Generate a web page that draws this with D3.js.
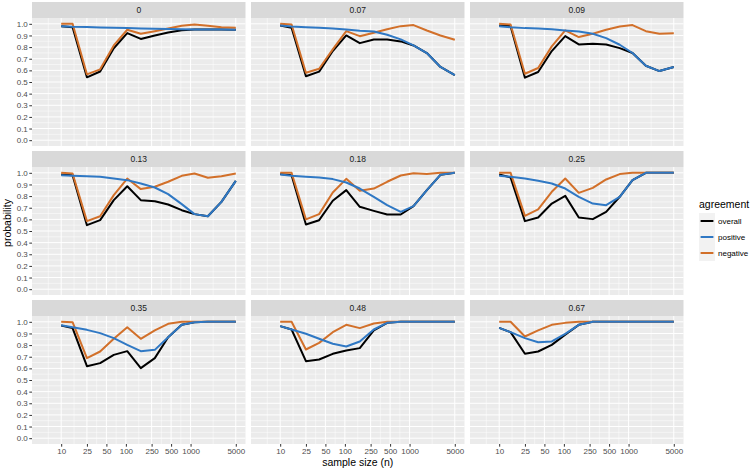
<!doctype html>
<html lang="en">
<head>
    <meta charset="UTF-8">
    <title>Agreement probability by sample size</title>
    <style>
        body { margin: 0; background: #fff; }
        svg { display: block; font-family: "Liberation Sans", Arial, sans-serif; }
        .tick-label { font-size: 8px; fill: #4d4d4d; }
        .strip-label { font-size: 8.5px; fill: #1a1a1a; }
        .axis-title { font-size: 10.5px; fill: #000; }
        .legend-label { font-size: 8px; fill: #000; }
    </style>
</head>
<body>
<svg class="chart"></svg>
<script src="https://d3js.org/d3.v7.min.js"></script>
<script>
    // facet labels and sample sizes
    var facets = ["0", "0.07", "0.09", "0.13", "0.18", "0.25", "0.35", "0.48", "0.67"];
    var sizes = [10, 15, 25, 40, 65, 105, 170, 280, 450, 730, 1150, 1850, 3000, 5000];
    var xTicks = [10, 25, 50, 100, 250, 500, 1000, 5000];
    var yTicks = [0, 0.1, 0.2, 0.3, 0.4, 0.5, 0.6, 0.7, 0.8, 0.9, 1.0];

    // one row per facet
    var overall = [
        [0.98, 0.97, 0.54, 0.59, 0.79, 0.92, 0.87, 0.90, 0.925, 0.945, 0.952, 0.951, 0.951, 0.95],
        [0.985, 0.966, 0.549, 0.589, 0.766, 0.90, 0.834, 0.866, 0.866, 0.849, 0.814, 0.749, 0.629, 0.56],
        [0.986, 0.98, 0.537, 0.586, 0.766, 0.894, 0.823, 0.829, 0.823, 0.791, 0.749, 0.64, 0.594, 0.629],
        [0.986, 0.98, 0.55, 0.593, 0.765, 0.885, 0.765, 0.756, 0.728, 0.679, 0.645, 0.627, 0.75, 0.931],
        [0.99, 0.98, 0.556, 0.593, 0.76, 0.851, 0.708, 0.673, 0.642, 0.642, 0.714, 0.851, 0.983, 1.0],
        [0.986, 0.96, 0.585, 0.616, 0.736, 0.802, 0.616, 0.602, 0.665, 0.794, 0.937, 1.0, 1.0, 1.0],
        [0.968, 0.946, 0.619, 0.645, 0.716, 0.748, 0.602, 0.688, 0.868, 0.974, 0.997, 1.0, 1.0, 1.0],
        [0.963, 0.934, 0.662, 0.676, 0.725, 0.754, 0.774, 0.926, 0.991, 1.0, 1.0, 1.0, 1.0, 1.0],
        [0.948, 0.911, 0.725, 0.745, 0.802, 0.89, 0.974, 1.0, 1.0, 1.0, 1.0, 1.0, 1.0, 1.0]
    ];
    var positive = [
        [0.98, 0.975, 0.972, 0.968, 0.966, 0.963, 0.96, 0.957, 0.955, 0.953, 0.952, 0.951, 0.951, 0.95],
        [0.986, 0.977, 0.971, 0.966, 0.96, 0.951, 0.94, 0.934, 0.906, 0.866, 0.814, 0.749, 0.629, 0.56],
        [0.98, 0.971, 0.963, 0.96, 0.954, 0.943, 0.934, 0.914, 0.877, 0.82, 0.749, 0.64, 0.594, 0.629],
        [0.98, 0.975, 0.971, 0.966, 0.951, 0.937, 0.908, 0.874, 0.817, 0.731, 0.645, 0.627, 0.75, 0.931],
        [0.986, 0.974, 0.966, 0.96, 0.946, 0.917, 0.865, 0.794, 0.722, 0.665, 0.714, 0.851, 0.983, 1.0],
        [0.974, 0.966, 0.951, 0.931, 0.908, 0.865, 0.794, 0.736, 0.722, 0.794, 0.937, 1.0, 1.0, 1.0],
        [0.971, 0.954, 0.931, 0.903, 0.86, 0.802, 0.748, 0.759, 0.868, 0.974, 0.997, 1.0, 1.0, 1.0],
        [0.963, 0.934, 0.897, 0.854, 0.811, 0.788, 0.831, 0.934, 0.991, 1.0, 1.0, 1.0, 1.0, 1.0],
        [0.948, 0.911, 0.86, 0.825, 0.831, 0.897, 0.974, 1.0, 1.0, 1.0, 1.0, 1.0, 1.0, 1.0]
    ];
    var negative = [
        [1.0, 1.0, 0.566, 0.609, 0.814, 0.949, 0.914, 0.937, 0.96, 0.983, 0.994, 0.983, 0.971, 0.966],
        [1.0, 0.994, 0.58, 0.614, 0.78, 0.937, 0.894, 0.923, 0.954, 0.98, 0.989, 0.943, 0.90, 0.863],
        [1.0, 0.994, 0.571, 0.62, 0.806, 0.943, 0.886, 0.914, 0.949, 0.977, 0.989, 0.937, 0.914, 0.92],
        [1.0, 0.994, 0.585, 0.627, 0.808, 0.951, 0.86, 0.88, 0.923, 0.974, 0.994, 0.957, 0.971, 0.994],
        [1.0, 1.0, 0.6, 0.645, 0.831, 0.948, 0.845, 0.865, 0.923, 0.977, 0.997, 0.99, 1.0, 1.0],
        [1.0, 1.0, 0.63, 0.685, 0.837, 0.951, 0.828, 0.871, 0.943, 0.989, 1.0, 1.0, 1.0, 1.0],
        [1.0, 0.997, 0.688, 0.745, 0.854, 0.954, 0.854, 0.926, 0.983, 1.0, 1.0, 1.0, 1.0, 1.0],
        [1.0, 1.0, 0.762, 0.819, 0.911, 0.974, 0.946, 0.986, 1.0, 1.0, 1.0, 1.0, 1.0, 1.0],
        [1.0, 1.0, 0.874, 0.926, 0.974, 0.991, 1.0, 1.0, 1.0, 1.0, 1.0, 1.0, 1.0, 1.0]
    ];

    var seriesNames = ["overall", "positive", "negative"];
    var colors = {overall: "#000000", positive: "#2f78c4", negative: "#d2702a"};
    var drawOrder = ["overall", "negative", "positive"];   // blue ends up on top
    var seriesData = {overall: overall, positive: positive, negative: negative};

    var totalWidth = 750, totalHeight = 470;
    var marginLeft = 32, marginTop = 2;
    var pw = 213.5, ph = 128, stripH = 16, gapX = 5.5, gapY = 5;

    var svg = d3.select(".chart").attr("width", totalWidth).attr("height", totalHeight);

    // log x with ggplot style 5% expansion around [5, 5000]
    var lo = Math.log10(5), hi = Math.log10(5000), ex = (hi - lo) * 0.05;
    var x = d3.scaleLog().domain([Math.pow(10, lo - ex), Math.pow(10, hi + ex)]).range([0, pw]);
    var y = d3.scaleLinear().domain([-0.05, 1.05]).range([ph, 0]);

    // minor breaks halfway between majors (in log space)
    var xMinor = [];
    for (var i = 0; i < xTicks.length - 1; i++) xMinor.push(Math.sqrt(xTicks[i] * xTicks[i + 1]));
    xMinor.unshift(Math.pow(10, 2 * Math.log10(xTicks[0]) - Math.log10(xMinor[0])));
    var yMinor = d3.range(0, 10).map(function(k) { return k / 10 + 0.05; });

    var line = d3.line()
        .x(function(d) { return x(d.n); })
        .y(function(d) { return y(d.p); });

    facets.forEach(function(label, fi) {
        var col = fi % 3, row = Math.floor(fi / 3);
        var px = marginLeft + col * (pw + gapX);
        var py = marginTop + row * (stripH + ph + gapY);

        // strip
        svg.append("rect").attr("x", px).attr("y", py).attr("width", pw).attr("height", stripH)
            .attr("fill", "#d9d9d9");
        svg.append("text").attr("class", "strip-label")
            .attr("x", px + pw / 2).attr("y", py + stripH / 2 + 3)
            .attr("text-anchor", "middle").text(label);

        var g = svg.append("g").attr("transform", "translate(" + px + "," + (py + stripH) + ")");
        g.append("rect").attr("width", pw).attr("height", ph).attr("fill", "#ebebeb");

        // grid
        g.selectAll(".ymin").data(yMinor).enter().append("line")
            .attr("x1", 0).attr("x2", pw)
            .attr("y1", function(d) { return y(d); }).attr("y2", function(d) { return y(d); })
            .attr("stroke", "#fff").attr("stroke-width", 0.5);
        g.selectAll(".xmin").data(xMinor.filter(function(d) { return x(d) > 0; })).enter().append("line")
            .attr("y1", 0).attr("y2", ph)
            .attr("x1", function(d) { return x(d); }).attr("x2", function(d) { return x(d); })
            .attr("stroke", "#fff").attr("stroke-width", 0.5);
        g.selectAll(".ymaj").data(yTicks).enter().append("line")
            .attr("x1", 0).attr("x2", pw)
            .attr("y1", function(d) { return y(d); }).attr("y2", function(d) { return y(d); })
            .attr("stroke", "#fff").attr("stroke-width", 1);
        g.selectAll(".xmaj").data(xTicks).enter().append("line")
            .attr("y1", 0).attr("y2", ph)
            .attr("x1", function(d) { return x(d); }).attr("x2", function(d) { return x(d); })
            .attr("stroke", "#fff").attr("stroke-width", 1);

        // lines
        drawOrder.forEach(function(s) {
            var pts = sizes.map(function(n, k) { return {n: n, p: seriesData[s][fi][k]}; });
            g.append("path").datum(pts)
                .attr("d", line)
                .attr("fill", "none")
                .attr("stroke", colors[s])
                .attr("stroke-width", 2)
                .attr("stroke-linejoin", "round");
        });

        // y axis on first column
        if (col === 0) {
            var ya = g.append("g").call(d3.axisLeft(y).tickValues(yTicks).tickSize(2.7).tickPadding(1.5)
                .tickFormat(d3.format(".1f")));
            ya.select(".domain").remove();
            ya.selectAll("line").attr("stroke", "#333");
            ya.selectAll("text").attr("class", "tick-label").attr("fill", null);
            ya.attr("font-size", null).attr("font-family", null);
        }
        // x axis on bottom row
        if (row === 2) {
            var xa = g.append("g").attr("transform", "translate(0," + ph + ")")
                .call(d3.axisBottom(x).tickValues(xTicks).tickSize(2.7).tickPadding(1.5)
                    .tickFormat(d3.format("d")));
            xa.select(".domain").remove();
            xa.selectAll("line").attr("stroke", "#333");
            xa.selectAll("text").attr("class", "tick-label").attr("fill", null);
            xa.attr("font-size", null).attr("font-family", null);
        }
    });

    var plotRight = marginLeft + 3 * pw + 2 * gapX;
    var plotBottom = marginTop + 3 * (stripH + ph) + 2 * gapY;

    // axis titles
    svg.append("text").attr("class", "axis-title")
        .attr("x", (marginLeft + plotRight) / 2).attr("y", plotBottom + 22)
        .attr("text-anchor", "middle").text("sample size (n)");
    svg.append("text").attr("class", "axis-title")
        .attr("transform", "translate(11," + ((marginTop + plotBottom) / 2) + ") rotate(-90)")
        .attr("text-anchor", "middle").text("probability");

    // legend
    var lg = svg.append("g").attr("transform", "translate(699,200)");
    lg.append("text").attr("class", "axis-title").attr("x", 0).attr("y", 8).text("agreement");
    seriesNames.forEach(function(s, k) {
        var ky = 13 + k * 16;
        lg.append("rect").attr("x", 0).attr("y", ky).attr("width", 16).attr("height", 16).attr("fill", "#f2f2f2");
        lg.append("line").attr("x1", 1.6).attr("x2", 14.4).attr("y1", ky + 8).attr("y2", ky + 8)
            .attr("stroke", colors[s]).attr("stroke-width", 2);
        lg.append("text").attr("class", "legend-label")
            .attr("x", 19).attr("y", ky + 11).text(s);
    });
</script>
</body>
</html>
